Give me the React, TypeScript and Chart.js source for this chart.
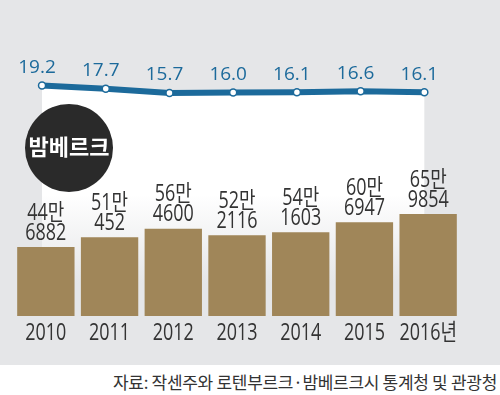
import React, { useEffect, useRef } from "react";
import { Chart, registerables } from "chart.js";

Chart.register(...registerables);

const years = ["2010", "2011", "2012", "2013", "2014", "2015", "2016년"];
const visitors = [446882, 510452, 564600, 522116, 541603, 606947, 659854];
const ratios = [19.2, 17.7, 15.7, 16.0, 16.1, 16.6, 16.1];
const cityName = "밤베르크";
const sourceText = "자료: 작센주와 로텐부르크·밤베르크시 통계청 및 관광청";

const BLUE = "#1c6a9b";
const BAR = "#a08659";
const GRAY = "#e5e6e8";
const TEXT = "#333333";
const KR = "'Noto Sans CJK KR', sans-serif";
const NUMFONT = "23px 'Open Sans', 'Noto Sans CJK KR', sans-serif";
const SQUEEZE = 0.78;

function drawCondensed(ctx: any, text: string, x: number, y: number) {
  ctx.save();
  ctx.translate(x, y);
  ctx.scale(SQUEEZE, 1);
  ctx.fillText(text, 0, 0);
  ctx.restore();
}

const panelPlugin = {
  id: "panelFill",
  beforeDatasetsDraw(chart: any) {
    const ctx = chart.ctx;
    const pts = chart.getDatasetMeta(1).data;
    const bottom = chart.chartArea.bottom;
    if (!pts.length) return;
    const g = ctx.createLinearGradient(0, 95, 0, bottom);
    g.addColorStop(0, "#ffffff");
    g.addColorStop(0.45, "#ffffff");
    g.addColorStop(0.85, GRAY);
    g.addColorStop(1, GRAY);
    ctx.save();
    ctx.beginPath();
    ctx.moveTo(pts[0].x, bottom);
    pts.forEach((p: any) => ctx.lineTo(p.x, p.y));
    ctx.lineTo(pts[pts.length - 1].x, bottom);
    ctx.closePath();
    ctx.fillStyle = g;
    ctx.fill();
    ctx.restore();
  },
};

const labelPlugin = {
  id: "valueLabels",
  afterDatasetsDraw(chart: any) {
    const ctx = chart.ctx;
    ctx.save();
    ctx.textAlign = "center";
    ctx.textBaseline = "middle";
    ctx.fillStyle = TEXT;
    ctx.font = NUMFONT;
    chart.getDatasetMeta(0).data.forEach((bar: any, i: number) => {
      const v = visitors[i];
      drawCondensed(ctx, Math.floor(v / 10000) + "만", bar.x, bar.y - 34);
      drawCondensed(ctx, String(v % 10000), bar.x, bar.y - 14);
    });
    const xs = chart.scales.x;
    xs.getLabels().forEach((lab: string, i: number) => {
      drawCondensed(ctx, lab, xs.getPixelForValue(i), xs.top + 17);
    });
    ctx.fillStyle = BLUE;
    ctx.font = "19px 'Open Sans', 'Noto Sans', sans-serif";
    chart.getDatasetMeta(1).data.forEach((pt: any, i: number) => {
      ctx.fillText(ratios[i].toFixed(1), pt.x - 5, pt.y - 18);
    });
    ctx.restore();
  },
};

export default function App() {
  const ref = useRef<HTMLCanvasElement>(null);
  useEffect(() => {
    const canvas = ref.current!;
    const chart = new Chart(canvas, {
      type: "bar",
      data: {
        labels: years,
        datasets: [
          {
            type: "bar",
            data: visitors,
            backgroundColor: BAR,
            borderWidth: 0,
            grouped: false,
            categoryPercentage: 1,
            barPercentage: 0.9,
            xAxisID: "x",
            yAxisID: "y",
            order: 1,
          } as any,
          {
            type: "line",
            data: ratios.map((r, i) => ({ x: i, y: r })),
            borderColor: BLUE,
            borderWidth: 6,
            pointRadius: 3.5,
            pointBorderWidth: 1.5,
            pointBackgroundColor: "#ffffff",
            pointBorderColor: BLUE,
            tension: 0,
            fill: false,
            xAxisID: "x2",
            yAxisID: "y1",
            order: 0,
          } as any,
        ],
      },
      options: {
        responsive: false,
        animation: false,
        devicePixelRatio: 1,
        layout: { padding: { top: 40, left: 14, right: 40, bottom: 0 } },
        plugins: {
          legend: { display: false },
          tooltip: { enabled: false },
        },
        scales: {
          x: {
            type: "category",
            offset: true,
            grid: { display: false, drawTicks: false },
            border: { display: false },
            ticks: { display: false },
            afterFit: (axis: any) => {
              axis.height = 49;
            },
          },
          x2: {
            type: "linear",
            display: false,
            offset: false,
            min: -0.44,
            max: 6.56,
          },
          y: {
            display: false,
            min: 0,
            max: 1786400,
          },
          y1: {
            display: false,
            min: -88.5,
            max: 40.5,
          },
        },
      } as any,
      plugins: [panelPlugin, labelPlugin],
    });
    return () => chart.destroy();
  }, []);

  return (
    <div
      style={{
        position: "absolute",
        left: 0,
        top: 0,
        width: 500,
        height: 395,
        background: "#ffffff",
        overflow: "hidden",
      }}
    >
      <div style={{ position: "absolute", left: 0, top: 0, width: 500, height: 365, background: GRAY }} />
      <canvas
        ref={ref}
        width={500}
        height={365}
        style={{ position: "absolute", left: 0, top: 0, width: 500, height: 365 }}
      />
      <div
        style={{
          position: "absolute",
          left: 25,
          top: 104,
          width: 88,
          height: 88,
          borderRadius: "50%",
          background: "#2a2a2a",
          color: "#ffffff",
          fontFamily: KR,
          fontWeight: 700,
          fontSize: 22,
          display: "flex",
          alignItems: "center",
          justifyContent: "center",
          lineHeight: 1,
          paddingBottom: 6,
          boxSizing: "border-box",
        }}
      >
        {cityName}
      </div>
      <div
        style={{
          position: "absolute",
          right: 3,
          top: 371,
          fontFamily: KR,
          fontSize: 17,
          lineHeight: "22px",
          color: TEXT,
          letterSpacing: -0.3,
          whiteSpace: "nowrap",
        }}
      >
        {sourceText}
      </div>
    </div>
  );
}
